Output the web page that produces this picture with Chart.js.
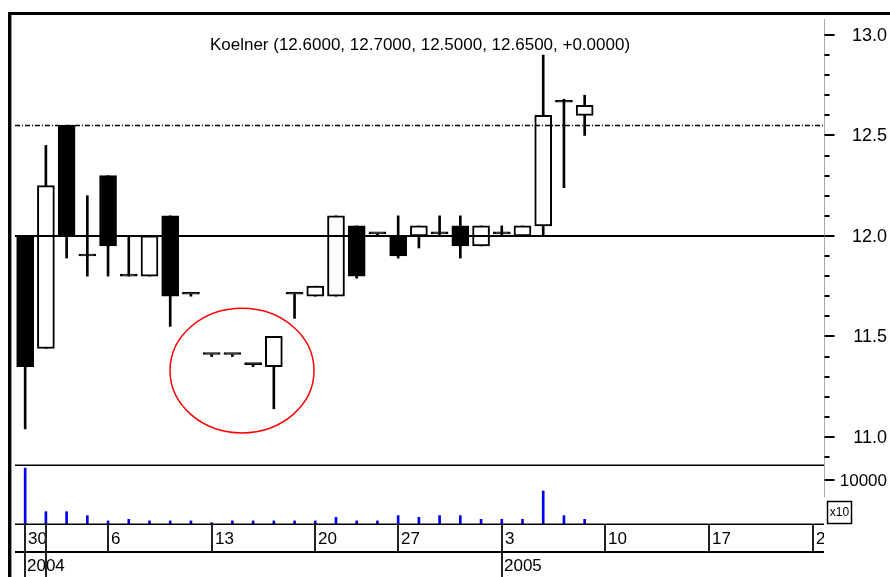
<!DOCTYPE html>
<html lang="en">
<head>
<meta charset="UTF-8">
<title>Koelner</title>
<script src="https://cdn.jsdelivr.net/npm/chart.js"></script>
<style>
  html, body { margin: 0; padding: 0; background: #fff; }
  #wrap { width: 890px; height: 577px; }
</style>
</head>
<body>
<div id="wrap"><canvas id="chart" width="890" height="577"></canvas></div>
<script>
// one candle per trading day, index 0 = the "30" tick
const opens  = [12.00, 11.44, 12.55, 11.90, 12.30, 11.80, 11.80, 12.10, 11.71, 11.41, 11.41, 11.36, 11.35, 11.71,
                11.70, 11.70, 12.05, 12.01, 12.00, 12.00, 12.01, 12.05, 11.95, 12.01, 12.00, 12.05, 12.665, 12.60];
const highs  = [12.00, 12.45, 12.55, 12.20, 12.30, 12.00, 12.00, 12.10, 11.71, 11.41, 11.41, 11.36, 11.50, 11.71,
                11.75, 12.10, 12.05, 12.01, 12.10, 12.05, 12.10, 12.10, 12.05, 12.05, 12.05, 12.90, 12.68, 12.70];
const lows   = [11.04, 11.44, 11.89, 11.80, 11.80, 11.80, 11.80, 11.55, 11.70, 11.40, 11.40, 11.35, 11.14, 11.59,
                11.70, 11.70, 11.79, 12.00, 11.89, 11.94, 12.00, 11.89, 11.95, 12.00, 12.00, 12.00, 12.24, 12.50];
const closes = [11.35, 12.25, 12.00, 11.90, 11.95, 11.80, 12.00, 11.70, 11.71, 11.41, 11.41, 11.36, 11.50, 11.71,
                11.75, 12.10, 11.80, 12.01, 11.90, 12.05, 12.01, 11.95, 12.05, 12.01, 12.05, 12.60, 12.665, 12.65];
// volume, axis is x10
const volumes = [12700, 2800, 2800, 1900, 700, 1070, 700, 700, 700, 300, 700, 700, 700, 700,
                 700, 1500, 700, 700, 1900, 1500, 1900, 1900, 1070, 1070, 1070, 7500, 1900, 1070];

const priceMajor = [11.0, 11.5, 12.0, 12.5, 13.0];
const priceMinorFrom = 10.9, priceMinorTo = 13.0;
const volumeTicks = [10000];
const dateTickIdx = [0, 4, 9, 14, 18, 23, 28, 33, 38];
const dateTickLabels = ['30', '6', '13', '20', '27', '3', '10', '17', '24'];
const yearIdx = [0, 23];
const yearLabels = ['2004', '2005'];
const yearLineIdx = [0, 1, 23];
const baseLevel = 12.0;
const prevHigh = 12.55;
const highlight = { x0: 6.99, x1: 13.94, y0: 11.02, y1: 11.64 };  // red circle, data units
const titleText = 'Koelner (12.6000, 12.7000, 12.5000, 12.6500, +0.0000)';

const idx = opens.map((_, i) => i);
const FONT = '17px "Liberation Sans", Arial, sans-serif';

// panel rows (pixels)
const PANEL_SPLIT = 465, VOL_BASE = 524, DATE_ROW = 552, LINE_LEFT = 15;

const decor = {
  id: 'decor',
  afterDatasetsDraw(chart) {
    const { ctx, chartArea: a, scales: { x, y, yv } } = chart;
    ctx.save();

    // reference levels
    ctx.strokeStyle = '#000';
    ctx.lineWidth = 2;
    let py = Math.round(y.getPixelForValue(baseLevel));
    ctx.beginPath(); ctx.moveTo(LINE_LEFT, py); ctx.lineTo(a.right, py); ctx.stroke();

    ctx.lineWidth = 1.5;
    ctx.strokeStyle = '#000';
    ctx.setLineDash([5, 2, 1, 2]);
    py = Math.round(y.getPixelForValue(prevHigh)) + 0.5;
    ctx.beginPath(); ctx.moveTo(LINE_LEFT, py); ctx.lineTo(a.right, py); ctx.stroke();
    ctx.setLineDash([]);

    // highlight ellipse
    const ex0 = x.getPixelForValue(highlight.x0), ex1 = x.getPixelForValue(highlight.x1);
    const ey0 = y.getPixelForValue(highlight.y1), ey1 = y.getPixelForValue(highlight.y0);
    ctx.strokeStyle = '#ff0000';
    ctx.lineWidth = 1.5;
    ctx.beginPath();
    ctx.ellipse((ex0 + ex1) / 2, (ey0 + ey1) / 2, (ex1 - ex0) / 2, (ey1 - ey0) / 2, 0, 0, Math.PI * 2);
    ctx.stroke();

    // frame
    ctx.fillStyle = '#000';
    ctx.fillRect(8, 12, 3, 577 - 12);
    ctx.fillRect(8, 12, 890 - 8, 3);
    ctx.fillStyle = '#999';
    ctx.fillRect(11, 15, 1, 577 - 15);

    // panel lines
    ctx.strokeStyle = '#000';
    ctx.lineWidth = 1.5;
    [PANEL_SPLIT, VOL_BASE].forEach(v => {
      ctx.beginPath(); ctx.moveTo(LINE_LEFT, v + 0.25); ctx.lineTo(a.right, v + 0.25); ctx.stroke();
    });
    ctx.lineWidth = 2;
    ctx.beginPath(); ctx.moveTo(LINE_LEFT, DATE_ROW); ctx.lineTo(a.right, DATE_ROW); ctx.stroke();

    // price axis
    const ax = a.right + 0.5;
    ctx.strokeStyle = '#aaa';
    ctx.lineWidth = 1;
    ctx.beginPath(); ctx.moveTo(ax, 19); ctx.lineTo(ax, 497); ctx.stroke();

    ctx.strokeStyle = '#000';
    ctx.lineWidth = 2;
    for (let k = Math.round(priceMinorFrom * 10); k <= Math.round(priceMinorTo * 10); k++) {
      const t = Math.round(y.getPixelForValue(k / 10));
      const len = k % 5 === 0 ? 10 : 5;
      ctx.beginPath(); ctx.moveTo(ax, t); ctx.lineTo(ax + len, t); ctx.stroke();
    }
    ctx.fillStyle = '#000';
    ctx.font = '18px "Liberation Sans", Arial, sans-serif';
    ctx.textAlign = 'right';
    ctx.textBaseline = 'middle';
    priceMajor.forEach(v => {
      ctx.fillText(v.toFixed(1), 887, y.getPixelForValue(v) + 1);
    });
    ctx.font = FONT;
    volumeTicks.forEach(v => {
      const t = Math.round(yv.getPixelForValue(v));
      ctx.beginPath(); ctx.moveTo(ax, t); ctx.lineTo(ax + 10, t); ctx.stroke();
      ctx.fillText(String(v), 887, t + 1);
    });

    // x10 box
    ctx.lineWidth = 1.5;
    ctx.strokeRect(827.5, 501.5, 24, 22);
    ctx.font = '12px "Liberation Sans", Arial, sans-serif';
    ctx.textAlign = 'center';
    ctx.fillText('x10', 839.5, 513);

    // date row
    ctx.save();
    ctx.beginPath(); ctx.rect(0, VOL_BASE, a.right, 577 - VOL_BASE); ctx.clip();
    ctx.strokeStyle = '#222';
    ctx.lineWidth = 2;
    ctx.font = FONT;
    ctx.textAlign = 'left';
    dateTickIdx.forEach((d, j) => {
      const t = Math.round(x.getPixelForValue(d));
      ctx.beginPath(); ctx.moveTo(t, VOL_BASE); ctx.lineTo(t, DATE_ROW); ctx.stroke();
      ctx.fillText(dateTickLabels[j], t + 3, 539);
    });
    yearIdx.forEach((d, j) => {
      ctx.fillText(yearLabels[j], Math.round(x.getPixelForValue(d)) + 2, 566);
    });
    yearLineIdx.forEach(d => {
      const t = Math.round(x.getPixelForValue(d));
      ctx.beginPath(); ctx.moveTo(t, VOL_BASE); ctx.lineTo(t, 577); ctx.stroke();
    });
    ctx.restore();

    // title with last candle values
    ctx.fillStyle = '#000';
    ctx.font = FONT;
    ctx.textAlign = 'center';
    ctx.textBaseline = 'alphabetic';
    ctx.fillText(titleText, 420, 50);

    ctx.restore();
  }
};

new Chart(document.getElementById('chart'), {
  type: 'bar',
  data: {
    datasets: [
      {
        label: 'range',
        data: idx.map(i => ({ x: i, y: [lows[i], highs[i]] })),
        yAxisID: 'y',
        backgroundColor: '#000',
        barThickness: 2,
        grouped: false,
        order: 2
      },
      {
        label: 'body',
        data: idx.map(i => ({ x: i, y: [opens[i], closes[i]] })),
        yAxisID: 'y',
        backgroundColor: idx.map(i => closes[i] > opens[i] ? '#fff' : '#000'),
        borderColor: '#000',
        borderWidth: 2,
        borderSkipped: false,
        barThickness: 17,
        minBarLength: 2,
        grouped: false,
        order: 1
      },
      {
        label: 'volume',
        data: idx.map(i => ({ x: i, y: volumes[i] })),
        yAxisID: 'yv',
        backgroundColor: '#0000ee',
        barThickness: 2,
        grouped: false,
        order: 3
      }
    ]
  },
  options: {
    responsive: false,
    animation: false,
    devicePixelRatio: 1,
    layout: { padding: { left: 9, right: 66, top: 12, bottom: 53 } },
    plugins: { legend: { display: false }, tooltip: { enabled: false } },
    scales: {
      x: { type: 'linear', min: -0.78, max: 38.55, offset: false, display: false },
      y: { type: 'linear', min: 10.567, max: 13.114, beginAtZero: false, display: false },
      yv: { type: 'linear', min: 0, max: 116364, display: false }
    }
  },
  plugins: [decor]
});
</script>
</body>
</html>
